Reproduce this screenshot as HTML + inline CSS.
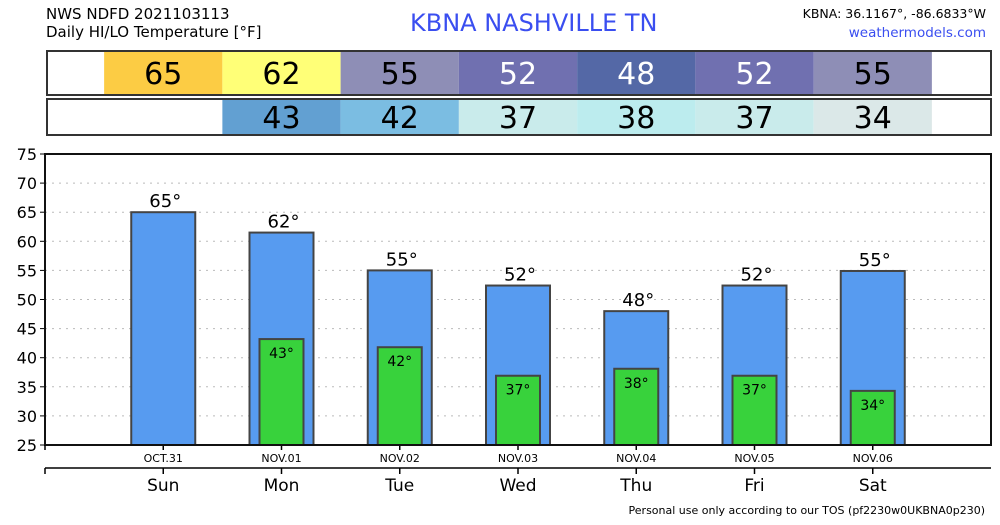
<!DOCTYPE html>
<html><head><meta charset="utf-8"><style>
body{margin:0;background:#fff;}
svg text{font-family:"DejaVu Sans","Liberation Sans",sans-serif;}
</style></head><body>
<svg id="c" width="1000" height="520" xmlns="http://www.w3.org/2000/svg">
<text x="46" y="19" font-size="15">NWS NDFD 2021103113</text>
<text x="46" y="37" font-size="15">Daily HI/LO Temperature [°F]</text>
<text x="410" y="31" font-size="24" fill="#3a4ef0">KBNA  NASHVILLE      TN</text>
<text x="986" y="18" font-size="12.5" text-anchor="end">KBNA: 36.1167°, -86.6833°W</text>
<text x="986" y="37" font-size="13.5" text-anchor="end" fill="#3a4ef0">weathermodels.com</text>
<g id="tables"></g>
<g id="plot"></g>
<text x="985" y="514" font-size="11" text-anchor="end">Personal use only according to our TOS (pf2230w0UKBNA0p230)</text>
</svg>
<script>
const days=["Sun","Mon","Tue","Wed","Thu","Fri","Sat"];
const dates=["OCT.31","NOV.01","NOV.02","NOV.03","NOV.04","NOV.05","NOV.06"];
const highs=[65,61.5,55,52.4,48,52.4,54.9];
const lows=[null,43.2,41.8,36.9,38.1,36.9,34.3];
const highColors=["#fccc44","#ffff77","#8e8eb6","#7070b0","#5468a6","#7070b0","#8e8eb6"];
const lowColors=[null,"#62a0d2","#7bbde2","#c9ebeb","#bcecee","#c9ebeb","#dbe8e8"];
const yTicks=[25,30,35,40,45,50,55,60,65,70,75];
const NS="http://www.w3.org/2000/svg";
const L=45,R=991,T=154,B=445;
const xs=i=>L+(i+1)*(R-L)/8;
const ys=v=>B-(v-25)*(B-T)/50;
function mk(p,tag,a){const e=document.createElementNS(NS,tag);for(const k in a)e.setAttribute(k,a[k]);p.appendChild(e);return e;}
const tb=document.getElementById('tables'),pl=document.getElementById('plot');
const cw=(R-L)/8;
function lum(c){const n=parseInt(c.slice(1),16);return 0.3*(n>>16)+0.59*((n>>8)&255)+0.11*(n&255);}
[[highs,highColors,51,44,'high'],[lows,lowColors,99,36,'low']].forEach(([vals,cols,y,h,nm])=>{
  vals.forEach((v,i)=>{ if(v==null)return;
    const r=mk(tb,'rect',{x:xs(i)-cw/2,y:y,width:cw,height:h,fill:cols[i]});
    
    
    const t=mk(tb,'text',{x:xs(i),y:y+h/2+11,'font-size':30,'text-anchor':'middle',fill:lum(cols[i])<128?'#fff':'#000'});
    t.textContent=Math.round(v);
    
    
  });
  const f=mk(tb,'rect',{x:L+2,y:y,width:R-L-2,height:h,fill:'none',stroke:'#333','stroke-width':2});
  
  
});
yTicks.forEach(v=>{
  const y=ys(v);
  if(v>25&&v<75){const g=mk(pl,'line',{x1:L,x2:R,y1:y,y2:y,stroke:'#bbb','stroke-dasharray':'2,5'});
  
  }
  mk(pl,'line',{x1:L-5,x2:L,y1:y,y2:y,stroke:'#000'});
  const t=mk(pl,'text',{x:L-8,y:y+6,'font-size':16,'text-anchor':'end'});
  t.textContent=v;
  
  
});
highs.forEach((v,i)=>{
  const x=xs(i);
  const b=mk(pl,'rect',{x:x-32,y:ys(v),width:64,height:B-ys(v),fill:'#579bf0',stroke:'#444','stroke-width':2});
  
  
  const t=mk(pl,'text',{x:x+2,y:ys(v)-5,'font-size':18,'text-anchor':'middle'});
  t.textContent=Math.round(v)+'°';
  
  
  if(lows[i]!=null){
    const lv=lows[i];
    const lb=mk(pl,'rect',{x:x-22,y:ys(lv),width:44,height:B-ys(lv),fill:'#38d23c',stroke:'#444','stroke-width':2});
    
    
    const lt=mk(pl,'text',{x:x,y:ys(lv)+19,'font-size':14,'text-anchor':'middle'});
    lt.textContent=Math.round(lv)+'°';
    
    
  }
  mk(pl,'line',{x1:x,x2:x,y1:B,y2:B+5,stroke:'#000','stroke-width':1.5});
  mk(pl,'line',{x1:x,x2:x,y1:468,y2:474,stroke:'#000','stroke-width':1.5});
  const d=mk(pl,'text',{x:x,y:462,'font-size':11,'text-anchor':'middle'});
  d.textContent=dates[i];
  
  
  const dn=mk(pl,'text',{x:x,y:491,'font-size':17,'text-anchor':'middle'});
  dn.textContent=days[i];
  
  
});
const fr=mk(pl,'rect',{x:L,y:T,width:R-L,height:B-T,fill:'none',stroke:'#111','stroke-width':2});


mk(pl,'line',{x1:L,x2:L,y1:B,y2:B+5,stroke:'#000','stroke-width':1.5});
mk(pl,'line',{x1:L,x2:R,y1:468,y2:468,stroke:'#000','stroke-width':1.5});
mk(pl,'line',{x1:L,x2:L,y1:468,y2:474,stroke:'#000','stroke-width':1.5});
</script>
</body></html>
